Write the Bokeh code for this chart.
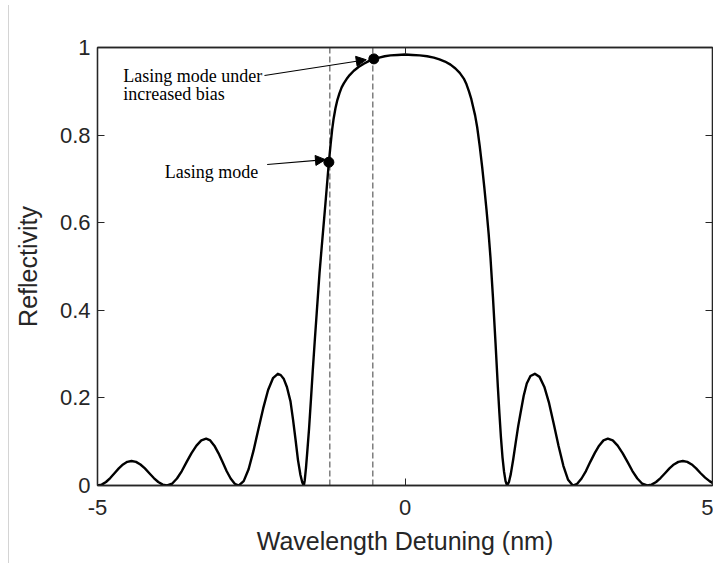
from bokeh.plotting import figure
from bokeh.models import (Range1d, FixedTicker, LinearAxis, CustomJSTickFormatter,
                          Arrow, NormalHead)
from bokeh.core.properties import value
from bokeh.embed import file_html
from bokeh.resources import INLINE

# ---- data ----
detuning = [
    # side lobe 1 (left)
    -5.0, -4.931, -4.862, -4.793, -4.724, -4.654, -4.585, -4.516, -4.447,
    -4.374, -4.302, -4.229, -4.157, -4.084, -4.012, -3.939, -3.867,
    # side lobe 2 (left)
    -3.788, -3.708, -3.629, -3.550, -3.471, -3.391, -3.312, -3.233,
    -3.167, -3.100, -3.034, -2.968, -2.901, -2.835, -2.768, -2.702,
    # side lobe 3 (left)
    -2.623, -2.543, -2.464, -2.385, -2.306, -2.226, -2.147, -2.068,
    -2.02, -1.97, -1.92, -1.862, -1.82, -1.78, -1.74, -1.70, -1.67, -1.645,
    # main lobe
    -1.63, -1.61, -1.59, -1.56, -1.53, -1.50, -1.465, -1.435, -1.39, -1.342,
    -1.293, -1.238, -1.21, -1.184, -1.16, -1.13, -1.10, -1.065, -1.03, -0.995,
    -0.95, -0.90, -0.832, -0.75, -0.67, -0.59, -0.507, -0.42, -0.33, -0.236,
    -0.12, 0.0, 0.12, 0.24, 0.36, 0.469, 0.56, 0.65, 0.74, 0.82, 0.89, 0.956,
    1.0, 1.04, 1.075, 1.105, 1.14, 1.174, 1.215, 1.255, 1.29, 1.325, 1.36,
    1.39, 1.43, 1.472, 1.51, 1.535, 1.56, 1.585, 1.61, 1.635, 1.661,
    # side lobe 1 (right)
    1.69, 1.72, 1.76, 1.80, 1.84, 1.878, 1.93, 1.98, 2.04, 2.111,
    2.188, 2.266, 2.343, 2.420, 2.497, 2.575, 2.652, 2.729,
    # side lobe 2 (right)
    2.800, 2.871, 2.942, 3.013, 3.085, 3.156, 3.227, 3.298,
    3.378, 3.458, 3.538, 3.618, 3.698, 3.778, 3.858, 3.938,
    # side lobe 3 (right)
    4.010, 4.083, 4.155, 4.228, 4.300, 4.372, 4.445, 4.517,
    4.59, 4.662, 4.734, 4.807, 4.88, 4.952, 5.0,
]
reflectivity = [
    0.0, 0.002, 0.008, 0.017, 0.028, 0.039, 0.048, 0.054, 0.056,
    0.054, 0.048, 0.039, 0.028, 0.017, 0.008, 0.002, 0.0,
    0.004, 0.016, 0.033, 0.054, 0.074, 0.091, 0.103, 0.107,
    0.103, 0.091, 0.074, 0.054, 0.033, 0.016, 0.004, 0.0,
    0.010, 0.037, 0.079, 0.128, 0.176, 0.218, 0.245, 0.255,
    0.252, 0.243, 0.225, 0.192, 0.150, 0.105, 0.058, 0.024, 0.007, 0.0,
    0.012, 0.040, 0.075, 0.130, 0.195, 0.262, 0.335, 0.395, 0.485, 0.565,
    0.645, 0.738, 0.778, 0.813, 0.838, 0.862, 0.880, 0.896, 0.909, 0.918,
    0.928, 0.937, 0.947, 0.956, 0.963, 0.969, 0.974, 0.977, 0.980, 0.982,
    0.983, 0.984, 0.983, 0.982, 0.980, 0.977, 0.973, 0.968, 0.961, 0.952, 0.942, 0.929,
    0.916, 0.900, 0.884, 0.866, 0.845, 0.818, 0.775, 0.727, 0.680, 0.630, 0.575,
    0.520, 0.430, 0.325, 0.225, 0.165, 0.110, 0.065, 0.032, 0.010, 0.0,
    0.008, 0.026, 0.060, 0.098, 0.135, 0.165, 0.205, 0.233, 0.250, 0.255,
    0.248, 0.225, 0.188, 0.140, 0.090, 0.045, 0.013, 0.0,
    0.004, 0.016, 0.033, 0.054, 0.074, 0.091, 0.103, 0.107,
    0.103, 0.091, 0.074, 0.054, 0.033, 0.016, 0.004, 0.0,
    0.002, 0.008, 0.017, 0.028, 0.039, 0.048, 0.054, 0.056,
    0.054, 0.048, 0.039, 0.028, 0.018, 0.010, 0.006,
]

mode_x = [-1.238, -0.507]          # lasing mode, lasing mode under increased bias
mode_y = [0.738, 0.974]
dash_x = [-1.222, -0.523]
dash_y0 = [0.0, 0.0]
dash_y1 = [1.0, 1.0]

label_text = ["Lasing mode under", "increased bias", "Lasing mode"]
label_x = [-4.582, -4.582, -3.906]
label_y = [0.935, 0.894, 0.715]

arrow_start_x = [-2.285, -2.241]
arrow_start_y = [0.936, 0.733]
arrow_end_x = [-0.63, -1.293]
arrow_end_y = [0.972, 0.744]

x_ticks = [-5, 0, 5]
y_ticks = [0, 0.2, 0.4, 0.6, 0.8, 1.0]

# ---- figure ----
AX = "#262626"
p = figure(width=705, height=558, output_backend="svg", toolbar_location=None,
           x_range=Range1d(-5, 5), y_range=Range1d(0, 1),
           min_border_left=88, min_border_right=2, min_border_top=42, min_border_bottom=78,
           x_axis_label="Wavelength Detuning (nm)", y_axis_label="Reflectivity")
p.styles = {"margin-left": "8px", "margin-top": "5px", "border-left": "1px solid #d4d4d4"}
p.background_fill_color = "white"
p.border_fill_color = "white"
p.grid.visible = False
p.outline_line_color = AX
p.outline_line_width = 1.3

for ax in (p.xaxis[0], p.yaxis[0]):
    ax.axis_line_color = AX
    ax.axis_line_width = 1.3
    ax.major_tick_in = 7
    ax.major_tick_out = 0
    ax.minor_tick_in = 0
    ax.minor_tick_out = 0
    ax.major_tick_line_color = AX
    ax.major_label_text_font = "Liberation Sans"
    ax.major_label_text_font_size = "22px"
    ax.major_label_text_color = AX
    ax.axis_label_text_font = "Liberation Sans"
    ax.axis_label_text_font_size = "25px"
    ax.axis_label_text_font_style = "normal"
    ax.axis_label_text_color = AX

p.xaxis[0].ticker = FixedTicker(ticks=x_ticks)
p.xaxis[0].formatter = CustomJSTickFormatter(code="return String(tick);")
p.yaxis[0].ticker = FixedTicker(ticks=y_ticks)
p.yaxis[0].formatter = CustomJSTickFormatter(code="return String(Math.round(tick*10)/10);")
p.xaxis[0].major_label_standoff = 14
p.xaxis[0].axis_label_standoff = 9
p.yaxis[0].major_label_standoff = 7
p.yaxis[0].axis_label_standoff = 15

# mirrored box axes (ticks only)
right = LinearAxis(ticker=FixedTicker(ticks=y_ticks))
top = LinearAxis(ticker=FixedTicker(ticks=x_ticks))
for ax in (right, top):
    ax.axis_line_color = AX
    ax.axis_line_width = 1.3
    ax.major_tick_in = 7
    ax.major_tick_out = 0
    ax.minor_tick_in = 0
    ax.minor_tick_out = 0
    ax.major_tick_line_color = AX
    ax.formatter = CustomJSTickFormatter(code="return '';")
    ax.major_label_standoff = 0
p.add_layout(right, "right")
p.add_layout(top, "above")

# dashed markers of the modes
p.segment(x0=dash_x, y0=dash_y0, x1=dash_x, y1=dash_y1,
          line_color="#4d4d4d", line_width=1.1, line_dash="6 3")

# reflectivity curve
p.line(detuning, reflectivity, line_color="black", line_width=2.4, line_join="round")

# mode points
p.scatter(mode_x, mode_y, size=10, fill_color="black", line_color="black")

# annotations
p.text(x=label_x, y=label_y, text=label_text, text_font=value("Liberation Serif"),
       text_font_size="18px", text_color="black", text_baseline="alphabetic",
       text_align="left")
for sx, sy, ex, ey in zip(arrow_start_x, arrow_start_y, arrow_end_x, arrow_end_y):
    p.add_layout(Arrow(x_start=sx, y_start=sy, x_end=ex, y_end=ey,
                       line_color="black", line_width=1.1,
                       end=NormalHead(size=10, fill_color="black", line_color="black")))

open("out.html", "w").write(file_html(p, INLINE))
